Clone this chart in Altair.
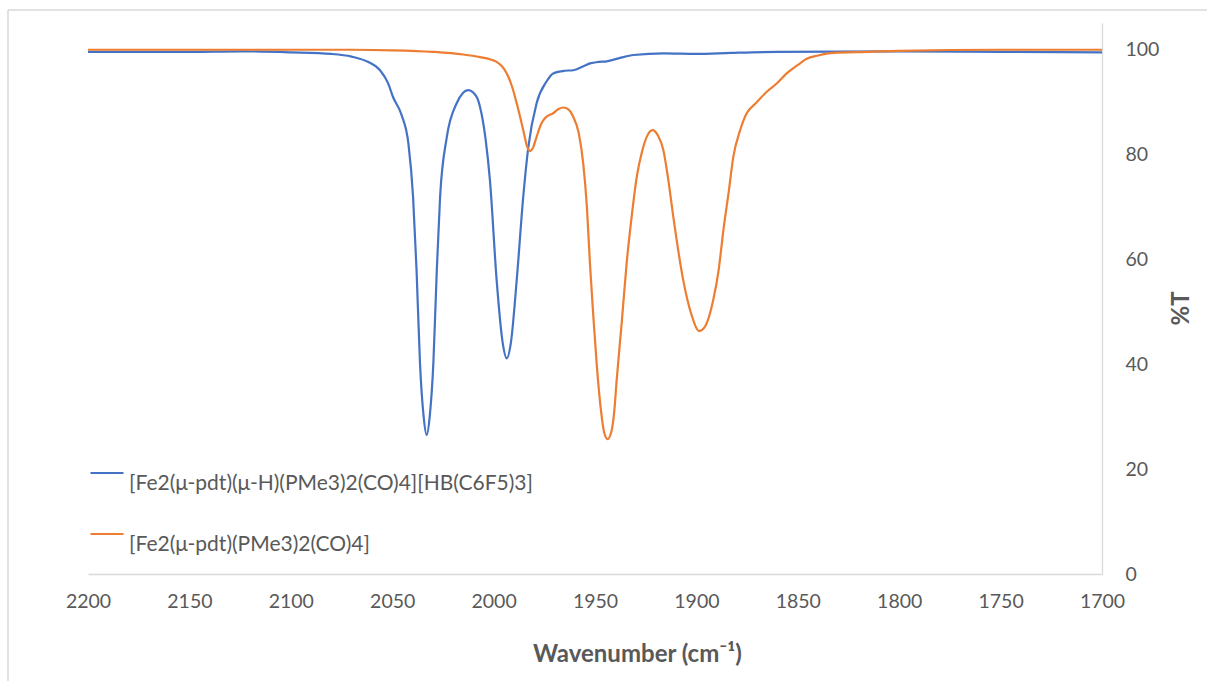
import altair as alt
import pandas as pd

# Series 1: [Fe2(μ-pdt)(μ-H)(PMe3)2(CO)4][HB(C6F5)3]
blue_wn = [2200, 2150, 2125, 2100, 2080, 2070, 2062, 2056, 2052, 2049.6, 2045.3, 2042, 2039.7, 2038,
           2036.3, 2034.5, 2033, 2031.5, 2029.7, 2028, 2026.4, 2023.1, 2018.2, 2012.5, 2008.5, 2006.7,
           2004, 2001.8, 1998.5, 1995.5, 1993.5, 1991.5, 1988.6, 1985.4, 1982.9, 1978.8, 1974, 1970.6,
           1965, 1960.7, 1956, 1952.5, 1948, 1944.2, 1938, 1931, 1916, 1900, 1883, 1860, 1800, 1750, 1700]
blue_t = [99.5, 99.5, 99.6, 99.4, 99.1, 98.6, 97.6, 96.0, 93.5, 90.9, 87.4, 82.0, 71.8, 58.0,
          40.2, 30.0, 26.5, 30.0, 40.2, 58.0, 71.8, 83.2, 89.7, 92.2, 91.0, 89.0,
          83.0, 75.0, 56.0, 44.0, 41.1, 44.0, 56.0, 71.8, 81.3, 89.7, 93.8, 95.4,
          95.9, 96.0, 96.7, 97.3, 97.6, 97.7, 98.3, 98.9, 99.2, 99.1, 99.3, 99.5, 99.6, 99.5, 99.4]

# Series 2: [Fe2(μ-pdt)(PMe3)2(CO)4]
orange_wn = [2200, 2150, 2125, 2100, 2070, 2050, 2030, 2015, 2006.7, 2001, 1998.5, 1996, 1993.5, 1991,
             1988.6, 1985.4, 1983.5, 1982, 1980.5, 1978.8, 1976.5, 1974.6, 1970.6, 1968, 1965.6, 1963,
             1960.7, 1958, 1955.8, 1954, 1952.5, 1950.8, 1949.2, 1947, 1945.5, 1943.8, 1942, 1940.5,
             1939.3, 1936.8, 1934.4, 1931.8, 1929.4, 1926.8, 1924.5, 1921.6, 1919, 1916.3, 1914, 1911.4,
             1906.5, 1902.5, 1898.6, 1896, 1891.7, 1889, 1886.7, 1884, 1881.8, 1878.5, 1875.2, 1871,
             1865.3, 1860, 1855.5, 1850, 1845.6, 1840, 1832.5, 1816, 1800, 1750, 1700]
orange_t = [99.9, 99.9, 99.9, 99.9, 99.9, 99.8, 99.5, 99.0, 98.5, 98.0, 97.6, 96.8, 95.4, 93.0,
            89.7, 84.6, 81.5, 80.6, 81.3, 83.3, 85.8, 86.9, 87.8, 88.6, 88.9, 88.5,
            87.1, 84.0, 78.2, 70.0, 59.2, 49.0, 40.2, 31.0, 27.0, 25.7, 27.0, 31.0,
            37.0, 48.0, 59.2, 68.5, 75.7, 80.5, 83.3, 84.6, 83.6, 80.8, 75.5, 68.1,
            56.0, 49.5, 46.3, 47.0, 52.2, 58.0, 65.5, 73.0, 79.5, 84.5, 87.8, 89.6,
            91.9, 93.6, 95.4, 97.0, 98.2, 98.8, 99.3, 99.5, 99.7, 99.9, 99.9]

series_names = ["[Fe2(μ-pdt)(μ-H)(PMe3)2(CO)4][HB(C6F5)3]", "[Fe2(μ-pdt)(PMe3)2(CO)4]"]
series_colors = ["#4472C4", "#ED7D31"]
x_ticks = [2200, 2150, 2100, 2050, 2000, 1950, 1900, 1850, 1800, 1750, 1700]
y_ticks = [0, 20, 40, 60, 80, 100]

df = pd.concat([
    pd.DataFrame({"wn": blue_wn, "T": blue_t, "series": series_names[0]}),
    pd.DataFrame({"wn": orange_wn, "T": orange_t, "series": series_names[1]}),
])

FONT = "Lato"
GREY = "#595959"

lines = alt.Chart(df).mark_line(strokeWidth=2.2, interpolate="monotone").encode(
    x=alt.X("wn:Q",
            scale=alt.Scale(domain=[2200, 1700], nice=False, zero=False),
            axis=alt.Axis(values=x_ticks, format="d", title="Wavenumber (cm⁻¹)", grid=False, ticks=False,
                          domainColor="#d9d9d9", domainWidth=1.3,
                          labelFont=FONT, labelFontSize=19.5, labelColor=GREY, labelPadding=18,
                          labelFlush=False,
                          titleFont=FONT, titleFontSize=24, titleFontWeight="bold", titleColor=GREY,
                          titleX=549, titleY=87, titleBaseline="alphabetic", titleAlign="center")),
    y=alt.Y("T:Q",
            scale=alt.Scale(domain=[0, 105], nice=False),
            axis=alt.Axis(orient="right", values=y_ticks, title="%T", grid=False, ticks=False,
                          domainColor="#d9d9d9", domainWidth=1.3,
                          labelFont=FONT, labelFontSize=19.5, labelColor=GREY, labelPadding=23,
                          labelAlign="left",
                          titleFont=FONT, titleFontSize=24, titleFontWeight="bold", titleColor=GREY,
                          titleAngle=270, titleX=79, titleY=285, titleAlign="center",
                          titleBaseline="middle")),
    color=alt.Color("series:N",
                    scale=alt.Scale(domain=series_names, range=series_colors),
                    legend=alt.Legend(title=None, orient="none", legendX=1, legendY=432,
                                      symbolType="stroke", symbolSize=1089, symbolStrokeWidth=2.2,
                                      labelFont=FONT, labelFontSize=21, labelColor=GREY,
                                      labelBaseline="top",
                                      labelOffset=4, rowPadding=22, padding=0,
                                      labelLimit=600)),
    order=alt.Order("wn:Q"),
)

border_top = alt.Chart(pd.DataFrame({"a": [0]})).mark_rule(color="#d9d9d9", strokeWidth=1.5).encode(
    x=alt.value(-80), x2=alt.value(1119), y=alt.value(-13))
border_left = alt.Chart(pd.DataFrame({"a": [0]})).mark_rule(color="#d9d9d9", strokeWidth=1.5).encode(
    x=alt.value(-80), y=alt.value(-13), y2=alt.value(658))

chart = alt.layer(border_top, border_left, lines).properties(
    width=1014, height=551,
    autosize=alt.AutoSizeParams(type="none"),
    padding={"left": 88, "top": 23, "right": 105, "bottom": 107},
    background="white",
).configure_view(strokeWidth=0)

chart.save("out.html", embed_options={"renderer": "svg", "actions": False})
